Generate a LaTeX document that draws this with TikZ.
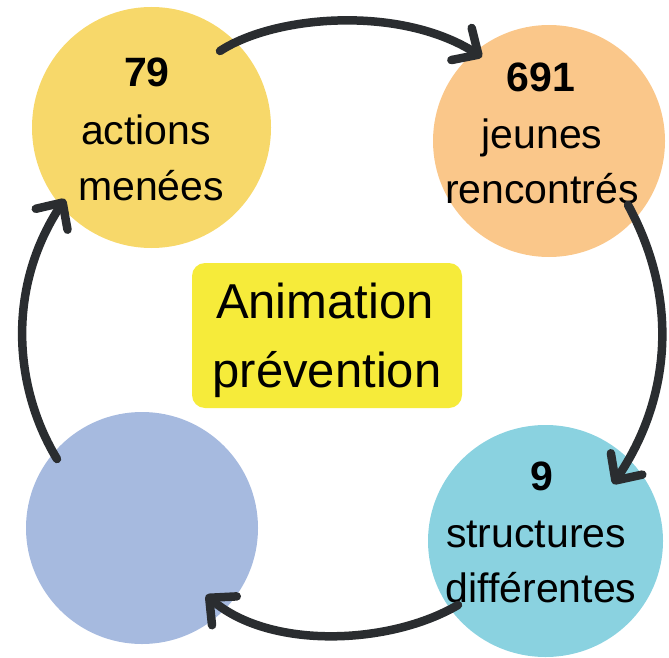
\documentclass[tikz,border=0pt]{standalone}
\usepackage{fontspec}
\setmainfont{Liberation Sans}
\usetikzlibrary{shapes.geometric,arrows.meta}
\definecolor{cyel}{HTML}{F7D86A}
\definecolor{cora}{HTML}{FAC78A}
\definecolor{ccya}{HTML}{8AD2E0}
\definecolor{cblu}{HTML}{A6BADF}
\definecolor{cbox}{HTML}{F6EB3A}
\definecolor{carr}{HTML}{2A2D30}
\tikzset{
  blob/.style={ellipse, inner sep=0pt, draw=none},
  txt/.style={anchor=base, inner sep=0pt, font=\fontsize{41}{49}\selectfont, text=black},
  num/.style={txt, font=\fontsize{41}{49}\selectfont\bfseries},
  bigtxt/.style={anchor=base, inner sep=0pt, font=\fontsize{49}{58}\selectfont, text=black},
  conn/.style={draw=carr, line width=8.5pt, line cap=round, line join=round,
    -{Straight Barb[length=20pt,width=38pt,round]}},
}
\begin{document}
\begin{tikzpicture}[x=1pt,y=-1pt]
\useasboundingbox (0,0) rectangle (669,658);
% blobs
\node[blob, fill=cyel, minimum width=239pt, minimum height=241pt] (yb) at (151.5,127.5) {};
\node[blob, fill=cora, minimum width=232pt, minimum height=232pt] (ob) at (549,141) {};
\node[blob, fill=ccya, minimum width=235pt, minimum height=232pt] (cb) at (545.5,541) {};
\node[blob, fill=cblu, minimum width=232pt, minimum height=232pt] (bb) at (142,528) {};
% center box
\node[draw=none, fill=cbox, rounded corners=13pt, minimum width=270pt, minimum height=145pt, inner sep=0pt] (box) at (327,335.5) {};
\node[bigtxt] (bx1) at (325,318) {Animation};
\node[bigtxt] (bx2) at (327,387) {prévention};
% texts
\node[num] (y1) at (147,87) {79};
\node[txt] (y2) at (146,145) {actions};
\node[txt] (y3) at (151,200) {menées};
\node[num] (o1) at (541,92) {691};
\node[txt] (o2) at (542,148) {jeunes};
\node[txt] (o3) at (542,203) {rencontrés};
\node[num] (c1) at (542,490) {9};
\node[txt] (c2) at (536,547) {structures};
\node[txt] (c3) at (541,602) {différentes};
% connectors
\draw[conn] ([shift={(68.5,-76.5)}]yb.center) .. controls (275,15) and (400,5) .. ([shift={(-67,-84)}]ob.center);
\draw[conn] ([shift={(79,64)}]ob.center) .. controls (680,300) and (670,400) .. ([shift={(67.5,-57)}]cb.center);
\draw[conn] ([shift={(-87.5,64)}]cb.center) .. controls (390,645) and (270,650) .. ([shift={(64,67)}]bb.center);
\draw[conn] ([shift={(-85,-69)}]bb.center) .. controls (15,390) and (5,290) .. ([shift={(-86.5,71.5)}]yb.center);
\end{tikzpicture}
\end{document}
